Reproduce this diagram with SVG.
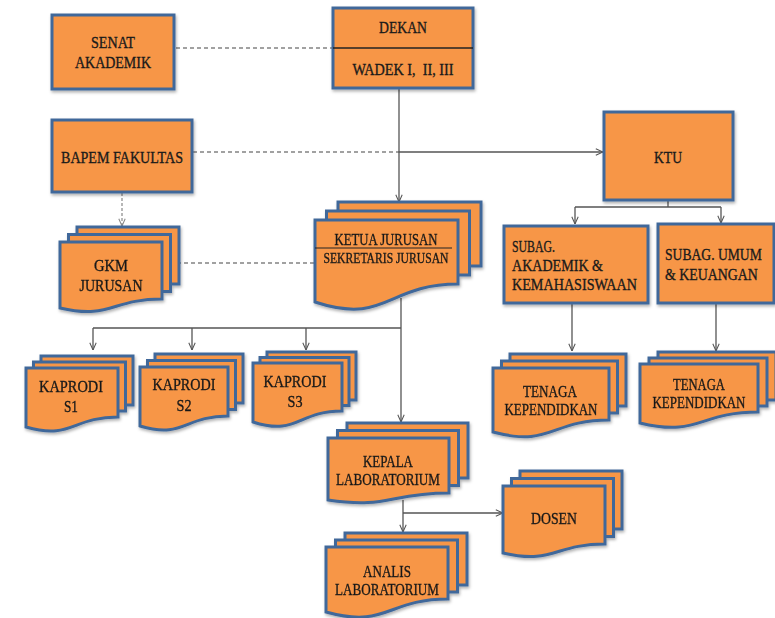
<svg xmlns="http://www.w3.org/2000/svg" width="775" height="618" viewBox="0 0 775 618">
<style>
.box{fill:#F79646;stroke:#41689A;stroke-width:3;filter:url(#sh)}
.pg{fill:#F79646;stroke:#41689A;stroke-width:3}
.t{font-family:"Liberation Serif",serif;font-size:17px;fill:#1a1a1a;stroke:#1a1a1a;stroke-width:0.35;text-anchor:middle}
.ts{font-size:14px}
.l{text-anchor:start}
.c{stroke:#555;stroke-width:1.3;fill:none}
.d{stroke:#444;stroke-width:1.2;fill:none;stroke-dasharray:4 3}
.dg{stroke:#888;stroke-width:1.2;fill:none;stroke-dasharray:3 2}
</style>
<defs>
<filter id="sh" x="-10%" y="-10%" width="125%" height="130%">
<feDropShadow dx="1" dy="2" stdDeviation="1.5" flood-color="#000" flood-opacity="0.3"/>
</filter>
<marker id="a" viewBox="0 0 10 10" refX="10" refY="5" markerWidth="8" markerHeight="8" markerUnits="userSpaceOnUse" orient="auto">
<path d="M1,1 L10,5 L1,9" fill="none" stroke="#555" stroke-width="1.3"/>
</marker>
<marker id="ag" viewBox="0 0 10 10" refX="10" refY="5" markerWidth="8" markerHeight="8" markerUnits="userSpaceOnUse" orient="auto">
<path d="M1,1 L10,5 L1,9" fill="none" stroke="#888" stroke-width="1.3"/>
</marker>
</defs>
<rect width="775" height="618" fill="#fff"/>

<g id="connectors">
<line class="d" x1="176" y1="48" x2="333" y2="48"/>
<line class="c" x1="399" y1="88" x2="399" y2="202" marker-end="url(#a)"/>
<line class="d" x1="193" y1="152" x2="399" y2="152"/>
<line class="c" x1="399" y1="152" x2="603" y2="152" marker-end="url(#a)"/>
<line class="dg" x1="122" y1="193" x2="122" y2="226" marker-end="url(#ag)"/>
<line class="d" x1="163" y1="263" x2="315" y2="263"/>
<polyline class="c" points="668,200 668,207"/>
<line class="c" x1="575" y1="207" x2="721" y2="207"/>
<line class="c" x1="575" y1="207" x2="575" y2="224" marker-end="url(#a)"/>
<line class="c" x1="721" y1="207" x2="721" y2="223" marker-end="url(#a)"/>
<line class="c" x1="572" y1="303" x2="572" y2="351" marker-end="url(#a)"/>
<line class="c" x1="716" y1="303" x2="716" y2="351" marker-end="url(#a)"/>
<line class="c" x1="401" y1="298" x2="401" y2="422" marker-end="url(#a)"/>
<line class="c" x1="93" y1="328" x2="401" y2="328"/>
<line class="c" x1="93" y1="328" x2="93" y2="350" marker-end="url(#a)"/>
<line class="c" x1="192" y1="328" x2="192" y2="350" marker-end="url(#a)"/>
<line class="c" x1="306" y1="328" x2="306" y2="350" marker-end="url(#a)"/>
<line class="c" x1="403" y1="500" x2="403" y2="532" marker-end="url(#a)"/>
<line class="c" x1="403" y1="513" x2="503" y2="513" marker-end="url(#a)"/>
</g>

<g id="senat">
<rect class="box" x="52" y="15" width="122" height="74"/>
<text class="t" x="113" y="48" textLength="44" lengthAdjust="spacingAndGlyphs">SENAT</text>
<text class="t" x="113" y="68" textLength="76" lengthAdjust="spacingAndGlyphs">AKADEMIK</text>
</g>

<g id="dekan">
<rect class="box" x="333" y="8" width="140" height="80"/>
<line x1="333" y1="48" x2="473" y2="48" stroke="#222" stroke-width="1.3"/>
<text class="t" x="403" y="33" textLength="48" lengthAdjust="spacingAndGlyphs">DEKAN</text>
<text class="t" x="403" y="75" textLength="101" lengthAdjust="spacingAndGlyphs" xml:space="preserve">WADEK I,  II, III</text>
</g>

<g id="bapem">
<rect class="box" x="52" y="120" width="140" height="72"/>
<text class="t" x="122" y="163" textLength="122" lengthAdjust="spacingAndGlyphs">BAPEM FAKULTAS</text>
</g>

<g id="ktu">
<rect class="box" x="604" y="112" width="129" height="88"/>
<text class="t" x="668" y="163" textLength="28" lengthAdjust="spacingAndGlyphs">KTU</text>
</g>

<g id="subag-akademik">
<rect class="box" x="504" y="226" width="144" height="77"/>
<text class="t l" x="512" y="252" textLength="43" lengthAdjust="spacingAndGlyphs">SUBAG.</text>
<text class="t l" x="512" y="271" textLength="91" lengthAdjust="spacingAndGlyphs">AKADEMIK &amp;</text>
<text class="t l" x="512" y="290" textLength="125" lengthAdjust="spacingAndGlyphs">KEMAHASISWAAN</text>
</g>

<g id="subag-umum">
<rect class="box" x="658" y="224" width="116" height="79"/>
<text class="t l" transform="translate(665,260) scale(0.8,1)" x="0" y="0" textLength="121" lengthAdjust="spacingAndGlyphs">SUBAG. UMUM</text>
<text class="t l" transform="translate(665,280) scale(0.8,1)" x="0" y="0" textLength="116" lengthAdjust="spacingAndGlyphs">&amp; KEUANGAN</text>
</g>

<g id="gkm" filter="url(#sh)">
<rect class="pg" x="77" y="227" width="102" height="57"/>
<rect class="pg" x="68.5" y="234.5" width="102" height="57"/>
<path class="pg" d="M60,242 H162 V299 C111,299 111,319.7 60,308 Z"/>
<text class="t" x="111" y="271" textLength="34" lengthAdjust="spacingAndGlyphs">GKM</text>
<text class="t" x="111" y="291" textLength="63" lengthAdjust="spacingAndGlyphs">JURUSAN</text>
</g>

<g id="ketua" filter="url(#sh)">
<rect class="pg" x="338" y="202" width="143" height="64"/>
<rect class="pg" x="326.5" y="211" width="143" height="64"/>
<path class="pg" d="M315,220 H458 V284 C386.5,284 386.5,325.4 315,302 Z"/>
<text class="t" x="386" y="245" textLength="103" lengthAdjust="spacingAndGlyphs">KETUA JURUSAN</text>
<line x1="315" y1="248" x2="452" y2="248" stroke="#222" stroke-width="1.2"/>
<text class="t ts" x="386" y="263" textLength="125" lengthAdjust="spacingAndGlyphs">SEKRETARIS JURUSAN</text>
</g>

<g id="kaprodi-s1" filter="url(#sh)">
<rect class="pg" x="41" y="356" width="92" height="49"/>
<rect class="pg" x="33.5" y="362" width="92" height="49"/>
<path class="pg" d="M26,368 H118 V417 C72,417 72,440 26,427 Z"/>
<text class="t" x="71" y="392" textLength="64" lengthAdjust="spacingAndGlyphs">KAPRODI</text>
<text class="t" x="71" y="412" textLength="14" lengthAdjust="spacingAndGlyphs">S1</text>
</g>

<g id="kaprodi-s2" filter="url(#sh)">
<rect class="pg" x="155" y="354" width="88" height="49"/>
<rect class="pg" x="147.5" y="360.5" width="88" height="49"/>
<path class="pg" d="M140,367 H228 V416 C184,416 184,439 140,426 Z"/>
<text class="t" x="184" y="390" textLength="63" lengthAdjust="spacingAndGlyphs">KAPRODI</text>
<text class="t" x="184" y="411" textLength="15" lengthAdjust="spacingAndGlyphs">S2</text>
</g>

<g id="kaprodi-s3" filter="url(#sh)">
<rect class="pg" x="267" y="352" width="89" height="48"/>
<rect class="pg" x="260" y="357.5" width="89" height="48"/>
<path class="pg" d="M253,363 H342 V411 C297.5,411 297.5,436.3 253,422 Z"/>
<text class="t" x="295" y="387" textLength="63" lengthAdjust="spacingAndGlyphs">KAPRODI</text>
<text class="t" x="295" y="407" textLength="15" lengthAdjust="spacingAndGlyphs">S3</text>
</g>

<g id="tenaga-1" filter="url(#sh)">
<rect class="pg" x="510" y="354" width="116" height="52"/>
<rect class="pg" x="501.5" y="361" width="116" height="52"/>
<path class="pg" d="M493,368 H609 V420 C551,420 551,447.6 493,432 Z"/>
<text class="t" x="550" y="397" textLength="54" lengthAdjust="spacingAndGlyphs">TENAGA</text>
<text class="t" x="551" y="415" textLength="93" lengthAdjust="spacingAndGlyphs">KEPENDIDKAN</text>
</g>

<g id="tenaga-2" filter="url(#sh)">
<rect class="pg" x="658" y="352" width="118" height="48"/>
<rect class="pg" x="649" y="358" width="118" height="48"/>
<path class="pg" d="M640,364 H758 V412 C699,412 699,437.3 640,423 Z"/>
<text class="t" x="699" y="390" textLength="52" lengthAdjust="spacingAndGlyphs">TENAGA</text>
<text class="t" x="699" y="408" textLength="93" lengthAdjust="spacingAndGlyphs">KEPENDIDKAN</text>
</g>

<g id="kepala-lab" filter="url(#sh)">
<rect class="pg" x="347" y="423" width="121" height="55"/>
<rect class="pg" x="337.5" y="430.5" width="121" height="55"/>
<path class="pg" d="M328,438 H449 V493 C388.5,493 388.5,509.1 328,500 Z"/>
<text class="t" x="388" y="467" textLength="50" lengthAdjust="spacingAndGlyphs">KEPALA</text>
<text class="t" x="388" y="485" textLength="104" lengthAdjust="spacingAndGlyphs">LABORATORIUM</text>
</g>

<g id="dosen" filter="url(#sh)">
<rect class="pg" x="520" y="471" width="102" height="58"/>
<rect class="pg" x="511.5" y="478.5" width="102" height="58"/>
<path class="pg" d="M503,486 H605 V544 C554,544 554,564.7 503,553 Z"/>
<text class="t" x="554" y="524" textLength="46" lengthAdjust="spacingAndGlyphs">DOSEN</text>
</g>

<g id="analis-lab" filter="url(#sh)">
<rect class="pg" x="345" y="533" width="122" height="52"/>
<rect class="pg" x="335.5" y="540" width="122" height="52"/>
<path class="pg" d="M326,547 H448 V599 C387,599 387,628.9 326,612 Z"/>
<text class="t" x="387" y="577" textLength="48" lengthAdjust="spacingAndGlyphs">ANALIS</text>
<text class="t" x="387" y="595" textLength="104" lengthAdjust="spacingAndGlyphs">LABORATORIUM</text>
</g>
</svg>
